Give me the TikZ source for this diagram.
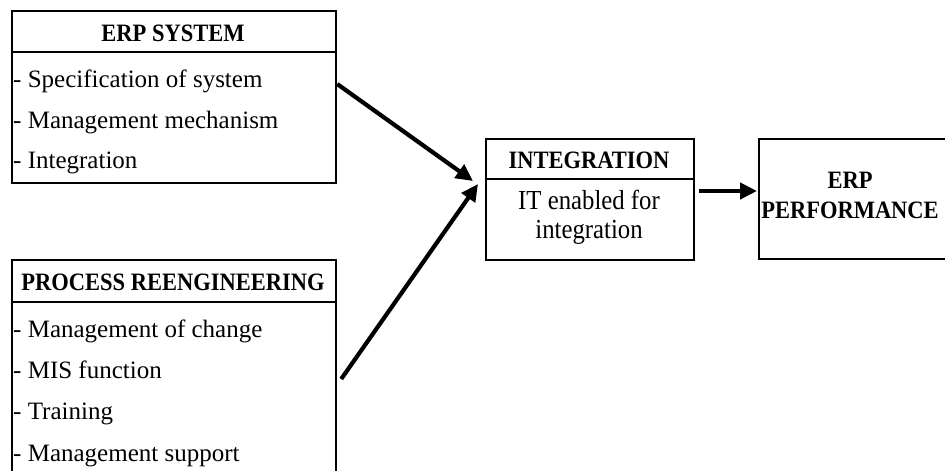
\documentclass[tikz,border=0pt]{standalone}
\usepackage{fontspec}
\setmainfont{Liberation Serif}
\newfontfamily\itemfont{Liberation Serif}
\newfontfamily\midfont{Liberation Serif}[FakeStretch=0.9]
\newfontfamily\headfont{Liberation Serif}[FakeStretch=0.9]
\usetikzlibrary{arrows.meta}
\begin{document}
\begin{tikzpicture}[x=1pt,y=-1pt,
  box/.style={draw=black,line width=2.2pt,rectangle,inner sep=0pt,anchor=north west},
  rule/.style={draw=black,line width=2.2pt},
  head/.style={inner sep=0pt,anchor=base,font=\headfont\bfseries\fontsize{25}{28}\selectfont},
  entry/.style={inner sep=0pt,anchor=base west,font=\itemfont\fontsize{25}{30}\selectfont},
  centry/.style={inner sep=0pt,anchor=base,font=\midfont\fontsize{27.5}{30}\selectfont},
  flow/.style={line width=4.2pt,-{Triangle[length=17pt,width=16pt]}}]
\useasboundingbox (0,0) rectangle (945,471);
\clip (0,0) rectangle (945,471);

% ERP system block
\node[box,minimum width=324pt,minimum height=172pt] (erp) at (11,10) {};
\draw[rule] ([yshift=-42pt]erp.north west) -- ([yshift=-42pt]erp.north east);
\node[head] (erpH) at (173,41) {ERP SYSTEM};
\node[entry] (erp1) at (13,87) {- Specification of system};
\node[entry] (erp2) at (13,128) {- Management mechanism};
\node[entry] (erp3) at (13,168) {- Integration};

% Process reengineering block (runs past the lower edge)
\node[box,minimum width=324pt,minimum height=260pt] (pr) at (11,259) {};
\draw[rule] ([yshift=-43pt]pr.north west) -- ([yshift=-43pt]pr.north east);
\node[head] (prH) at (173,290) {PROCESS REENGINEERING};
\node[entry] (pr1) at (13,337) {- Management of change};
\node[entry] (pr2) at (13,378) {- MIS function};
\node[entry] (pr3) at (13,419) {- Training};
\node[entry] (pr4) at (13,461) {- Management support};

% Integration block
\node[box,minimum width=208pt,minimum height=121pt] (integ) at (485,138) {};
\draw[rule] ([yshift=-41pt]integ.north west) -- ([yshift=-41pt]integ.north east);
\node[head] (integH) at (589,168) {INTEGRATION};
\node[centry] (integ1) at (589,209) {IT enabled for};
\node[centry] (integ2) at (589,238) {integration};

% ERP performance block (runs past the right edge)
\node[box,minimum width=210pt,minimum height=120pt] (perf) at (758,138) {};
\node[head] (perf1) at (850,188) {ERP};
\node[head] (perf2) at (850,218) {PERFORMANCE};

% Connectors
\draw[flow] ([yshift=-74pt]erp.north east) -- ([xshift=-12pt,yshift=-43pt]integ.north west);
\draw[flow] ([xshift=4pt,yshift=-120pt]pr.north east) -- ([xshift=-7pt,yshift=-46pt]integ.north west);
\draw[flow] ([xshift=4pt,yshift=-53pt]integ.north east) -- ([xshift=-1pt,yshift=-53pt]perf.north west);
\end{tikzpicture}
\end{document}
